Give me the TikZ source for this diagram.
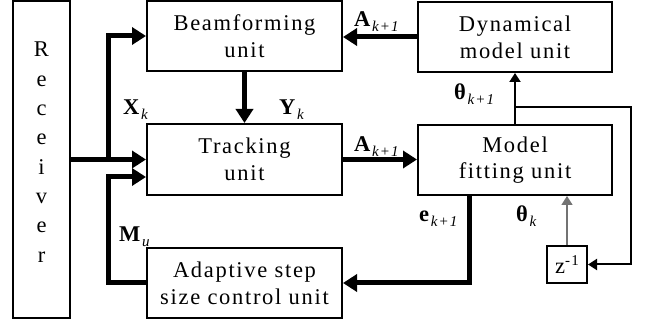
\documentclass[tikz,border=0pt]{standalone}
\usepackage{fontspec}
\setmainfont{Liberation Serif}[LetterSpace=7.5]
\usetikzlibrary{arrows.meta}
% lowered italic index after a bold symbol
\newcommand\subx[1]{\raisebox{-5pt}{\fontsize{15}{15}\selectfont\itshape #1}}
\begin{document}
\begin{tikzpicture}[x=1pt,y=-1pt,
  every node/.style={font=\fontsize{22.5}{26.7}\selectfont},
  unitbox/.style={draw,line width=2pt,align=center,inner sep=0pt,
    minimum width=195pt,minimum height=70pt},
  bigflow/.style={line width=5pt,-{Triangle[length=14pt,width=17pt]}},
  smallflow/.style={line width=2pt,-{Triangle[length=9pt,width=11pt]}},
  lbl/.style={anchor=base west,inner sep=0pt}]
\useasboundingbox (0,0) rectangle (648,320);

% blocks
\node[draw,line width=1.6pt,minimum width=57pt,minimum height=317pt,inner sep=0pt]
  (rcv) at (41.5,159.5) {};
\foreach \ch [count=\i] in {R,e,c,e,i,v,e,r}
  \node[anchor=base,inner sep=0pt] (rc\i) at (41.5,{57+29.3*(\i-1)}) {\ch};
\node[unitbox] (bf)  at (244.5,36)    {Beamforming\\unit};
\node[unitbox,minimum height=71pt] (trk) at (244.5,159.5) {Tracking\\unit};
\node[unitbox] (ad)  at (244.5,283)   {Adaptive step\\size control unit};
\node[unitbox,minimum width=194pt] (dyn) at (515,37)  {Dynamical\\model unit};
\node[unitbox,minimum width=194pt] (mf)  at (515,160) {Model\\fitting unit};
\node[draw,line width=2pt,minimum width=40pt,minimum height=37pt,inner sep=0pt]
  (z) at (567,264.5) {z\raisebox{8pt}{\fontsize{15}{15}\selectfont -1}};

% branching points
\coordinate (split) at (108,159.5);
\coordinate (mu)    at (108,177);
\coordinate (tap)   at (515,107);
\coordinate (rt)    at (631,107);
\coordinate (eout)  at (469,195);

% thick data paths
\draw[bigflow] (rcv.east |- trk.west) -- (trk.west);
\draw[bigflow] (split) |- (bf.west);
\draw[bigflow] (ad.west) -| (mu) -- (trk.west |- mu);
\draw[bigflow] (bf.south) -- (trk.north);
\draw[bigflow] (dyn.west) -- (bf.east |- dyn.west);
\draw[bigflow] (trk.east) -- (mf.west |- trk.east);
\draw[bigflow] (eout) |- (ad.east);

% thin parameter paths
\draw[smallflow] (mf.north) -- (dyn.south);
\draw[smallflow] (tap) -- (rt) |- (z.east);
\draw[smallflow,draw=black!55,line width=1.5pt] (z.north) -- (z.north |- mf.south);

% signal labels
\node[lbl] (lx)  at (123,115) {\textbf{X}\subx{k}};
\node[lbl] (ly)  at (279,115) {\textbf{Y}\subx{k}};
\node[lbl] (la1) at (354,27)  {\textbf{A}\subx{k+1}};
\node[lbl] (la2) at (354,152) {\textbf{A}\subx{k+1}};
\node[lbl] (lt1) at (454,100) {\textbf{θ}\subx{k+1}};
\node[lbl] (le)  at (419,222) {\textbf{e}\subx{k+1}};
\node[lbl] (lt)  at (516,222) {\textbf{θ}\subx{k}};
\node[lbl] (lm)  at (119,242) {\textbf{M}\subx{u}};
\end{tikzpicture}
\end{document}
